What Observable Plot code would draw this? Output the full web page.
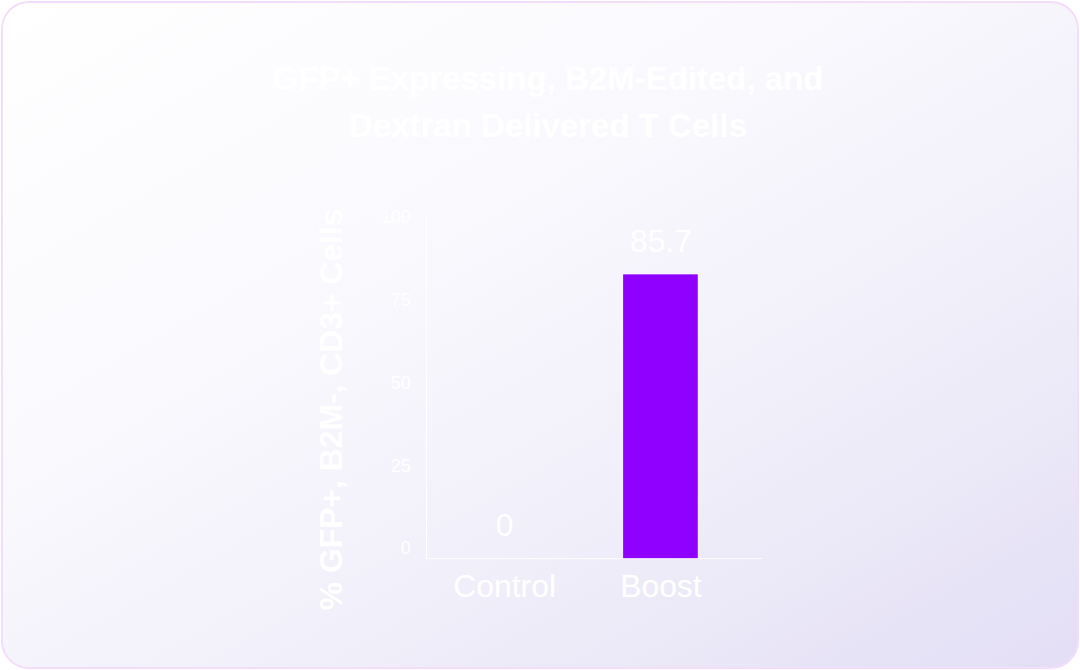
<!DOCTYPE html>
<html>
<head>
<meta charset="utf-8">
<script src="https://cdn.jsdelivr.net/npm/d3@7"></script>
<script src="https://cdn.jsdelivr.net/npm/@observablehq/plot@0.6"></script>
<style>
  html, body { margin: 0; padding: 0; width: 1080px; height: 670px; background: #ffffff; overflow: hidden; }
  #card {
    position: absolute; left: 1px; top: 1px; width: 1074px; height: 664px;
    border: 2px solid #f4dcfb; border-radius: 28px;
    background: linear-gradient(150deg, #ffffff 0%, #f9f8fd 40%, #efedf9 70%, #e3def5 100%);
    font-family: "Liberation Sans", Arial, sans-serif;
  }
  #title {
    position: absolute; left: 0; top: 52px; width: 1090px; text-align: center;
    color: #ffffff; font-size: 33px; font-weight: 600; line-height: 47px;
  }
  #chart { position: absolute; left: -1px; top: 159px; }
</style>
</head>
<body>
<div id="card">
  <div id="title">GFP+ Expressing, B2M-Edited, and<br>Dextran Delivered T Cells</div>
  <div id="chart"></div>
</div>
<script>
const categories = ["Control", "Boost"];
const values = [0, 85.7];
const valueLabels = ["0", "85.7"];
const yTicks = [0, 25, 50, 75, 100];
const yLabel = "% GFP+, B2M-, CD3+ Cells";

const data = categories.map((c, i) => ({category: c, value: values[i], label: valueLabels[i]}));

const chart = Plot.plot({
  width: 1080,
  height: 480,
  marginLeft: 426,
  marginRight: 317,
  marginTop: 52,
  marginBottom: 82,
  style: {background: "transparent", color: "#ffffff", fontFamily: "Liberation Sans, Arial, sans-serif"},
  x: {domain: categories, paddingInner: 0.525, paddingOuter: 0.332, align: 0.39, label: null},
  y: {domain: [0, 104], label: null},
  marks: [
    Plot.frame({anchor: "left", stroke: "#ffffff", strokeOpacity: 0.9}),
    Plot.frame({anchor: "bottom", stroke: "#ffffff", strokeOpacity: 0.9}),
    Plot.barY(data, {x: "category", y: "value", fill: "#9000ff"}),
    Plot.text(data, {x: "category", y: "value", text: "label", dy: -33, fontSize: 32, fill: "#ffffff"}),
    Plot.axisY({ticks: yTicks, tickSize: 0, tickPadding: 16, fontSize: 18, dy: -10, label: null, fill: "#ffffff"}),
    Plot.axisX({tickSize: 0, tickPadding: 16, fontSize: 32, label: null, fill: "#ffffff"}),
    Plot.text([yLabel], {frameAnchor: "left", textAnchor: "middle", dx: -95, dy: 23, rotate: -90, text: d => d, fontSize: 32, fontWeight: "bold", fill: "#ffffff"})
  ]
});
document.getElementById("chart").appendChild(chart);
</script>
</body>
</html>
